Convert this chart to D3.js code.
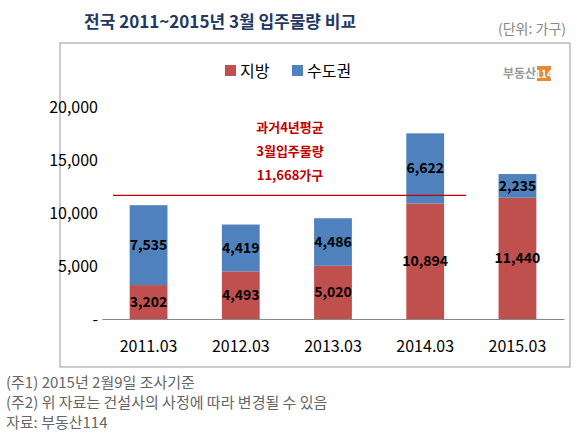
<!DOCTYPE html><html><head><meta charset="utf-8"><script src="https://d3js.org/d3.v7.min.js"></script>
<style>body{margin:0;background:#fff}text{font-family:"Noto Sans CJK KR",sans-serif}</style></head><body><svg id="c" width="580" height="437"></svg>
<script>
const categories=["2011.03","2012.03","2013.03","2014.03","2015.03"];
const local=[3202,4493,5020,10894,11440];
const capital=[7535,4419,4486,6622,2235];
const yTicks=[0,5000,10000,15000,20000];
const avg=11668;
const svg=d3.select("#c");
const x=d3.scaleBand().domain(categories).range([102,564]).paddingInner(0.59).paddingOuter(0.3);
const y=d3.scaleLinear().domain([0,20000]).range([319,107]);
svg.append("rect").attr("x",60).attr("y",43).attr("width",510).attr("height",324).attr("fill","none").attr("stroke","#999");
svg.append("text").attr("x",84).attr("y",28).attr("font-size",17).attr("font-weight","bold").attr("fill","#1F3864").text("전국 2011~2015년 3월 입주물량 비교");
svg.append("text").attr("x",566).attr("y",34).attr("text-anchor","end").attr("font-size",14).attr("fill","#888").text("(단위: 가구)");
svg.append("text").attr("x",536).attr("y",78).attr("text-anchor","end").attr("font-size",12).attr("font-weight","bold").attr("fill","#999").text("부동산");
svg.append("rect").attr("x",537).attr("y",66).attr("width",14).attr("height",15).attr("fill","#E08A3C");
svg.append("text").attr("x",544).attr("y",78).attr("text-anchor","middle").attr("font-size",10).attr("font-weight","bold").attr("fill","#fff").text("114");
const lg=[["지방","#C0504D",225],["수도권","#4F81BD",292]];
lg.forEach(d=>{svg.append("rect").attr("x",d[2]).attr("y",65).attr("width",11).attr("height",11).attr("fill",d[1]);
svg.append("text").attr("x",d[2]+15).attr("y",77).attr("font-size",16).text(d[0]);});
const ax=svg.append("g").attr("transform","translate(102,0)").call(d3.axisLeft(y).tickValues(yTicks).tickSize(0).tickFormat(d=>d===0?"-":d3.format(",")(d)));
ax.select(".domain").remove();ax.selectAll("text").attr("font-size",16).attr("fill","#000").attr("font-family","Liberation Sans, sans-serif").attr("x",-4);
const xa=svg.append("g").attr("transform","translate(0,319)").call(d3.axisBottom(x).tickSize(0));
xa.select(".domain").attr("stroke","#888");
xa.selectAll("text").attr("font-size",16).attr("fill","#000").attr("font-family","Liberation Sans, sans-serif").attr("dy","1.85em");
const bw=x.bandwidth();
categories.forEach((c,i)=>{
 const x0=x(c);
 svg.append("rect").attr("x",x0).attr("y",y(local[i])).attr("width",bw).attr("height",y(0)-y(local[i])).attr("fill","#C0504D");
 svg.append("rect").attr("x",x0).attr("y",y(local[i]+capital[i])).attr("width",bw).attr("height",y(0)-y(capital[i])).attr("fill","#4F81BD");
 svg.append("text").attr("x",x0+bw/2).attr("y",(y(0)+y(local[i]))/2+5).attr("text-anchor","middle").attr("font-size",14).attr("font-weight","bold").attr("font-family","Liberation Sans, sans-serif").text(d3.format(",")(local[i]));
 svg.append("text").attr("x",x0+bw/2).attr("y",(y(local[i])+y(local[i]+capital[i]))/2+5).attr("text-anchor","middle").attr("font-size",14).attr("font-weight","bold").attr("font-family","Liberation Sans, sans-serif").text(d3.format(",")(capital[i]));
});
svg.append("line").attr("x1",113).attr("x2",466).attr("y1",y(avg)).attr("y2",y(avg)).attr("stroke","#C00000").attr("stroke-width",1.2);
["과거4년평균","3월입주물량","11,668가구"].forEach((t,i)=>svg.append("text").attr("x",290).attr("y",132+i*24).attr("text-anchor","middle").attr("font-size",13).attr("font-weight","bold").attr("fill","#C00000").text(t));
["(주1) 2015년 2월9일 조사기준","(주2) 위 자료는 건설사의 사정에 따라 변경될 수 있음","자료: 부동산114"].forEach((t,i)=>svg.append("text").attr("x",6).attr("y",388+i*20).attr("font-size",15).attr("fill","#666").text(t));
</script></body></html>
